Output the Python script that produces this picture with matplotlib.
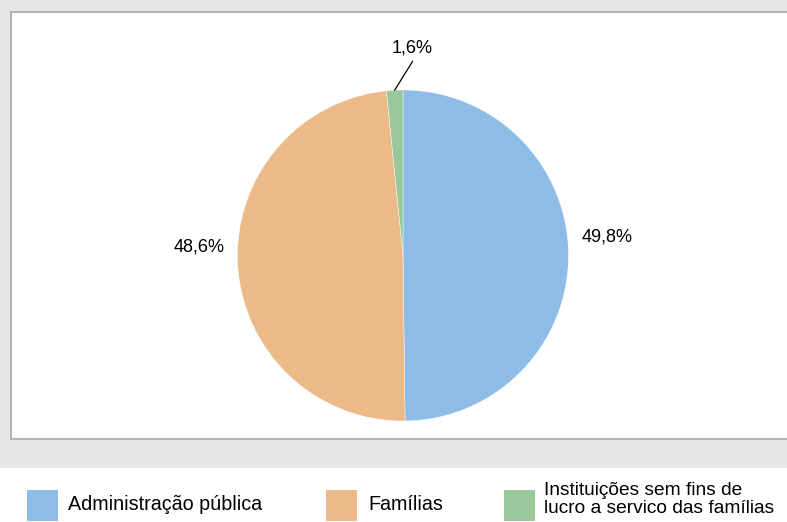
import numpy as np
import matplotlib
matplotlib.use("Agg")
import matplotlib.pyplot as plt
from matplotlib.patches import Rectangle

plt.rcParams['font.family'] = ['Liberation Sans', 'DejaVu Sans']

# Data
categories = ['Administração pública', 'Famílias',
              'Instituições sem fins de\nlucro a servico das famílias']
shares = [49.8, 48.6, 1.6]
share_labels = ['49,8%', '48,6%', '1,6%']
colors = ['#8dbce6', '#ebba88', '#99c89b']

W, H = 787, 522


def fy(y):
    # image pixel row -> plot y (origin at bottom)
    return H - y


fig = plt.figure(figsize=(W / 100, H / 100), dpi=100)
ax = fig.add_axes([0, 0, 1, 1])

# Background: grey band, white chart panel, white legend strip
ax.add_patch(Rectangle((0, fy(468)), W, 468, facecolor='#e5e6e8', edgecolor='none', zorder=0))
ax.add_patch(Rectangle((10.5, fy(438.5)), W + 10, 426.5, facecolor='white',
                       edgecolor='#b3b3b3', linewidth=1.5, zorder=1))

# Pie
cx, cy, r = 403, fy(255.5), 165.5
wedges, _ = ax.pie(shares, colors=colors, startangle=90, counterclock=False,
                   center=(cx, cy), radius=r, frame=True,
                   wedgeprops=dict(edgecolor='white', linewidth=0.3))
for w in wedges:
    w.set_zorder(2)

# Percentage labels
nudges = [(0, 17), (0, 20), None]
for w, lab, nd in zip(wedges, share_labels, nudges):
    mid = np.deg2rad((w.theta1 + w.theta2) / 2)
    if nd is not None:
        tx = cx + 1.235 * r * np.cos(mid) + nd[0]
        ty = cy + 1.235 * r * np.sin(mid) + nd[1]
        ax.text(tx, ty, lab, fontsize=13, ha='center', va='center', zorder=3)
    else:
        px = cx + 1.0 * r * np.cos(mid)
        py = cy + 1.0 * r * np.sin(mid)
        ax.plot([px, 412.5], [py, fy(61.5)], color='black', linewidth=0.9, zorder=3)
        ax.text(412, fy(48), lab, fontsize=13, ha='center', va='center', zorder=3)

# Legend
sq_x = [27, 326, 504]
tx_x = [68, 368, 544]
for i, (name, col) in enumerate(zip(categories, colors)):
    ax.add_patch(Rectangle((sq_x[i], fy(520.5)), 31, 31, facecolor=col, edgecolor='none', zorder=2))
    if '\n' in name:
        ax.text(tx_x[i], fy(482), name, fontsize=13.8, ha='left', va='top',
                linespacing=1.1, zorder=3)
    else:
        ax.text(tx_x[i], fy(504.5), name, fontsize=14.2, ha='left', va='center', zorder=3)

ax.set_xlim(0, W)
ax.set_ylim(0, H)
ax.set_aspect('auto')
ax.set_axis_off()

fig.savefig('out.png', dpi=100)
